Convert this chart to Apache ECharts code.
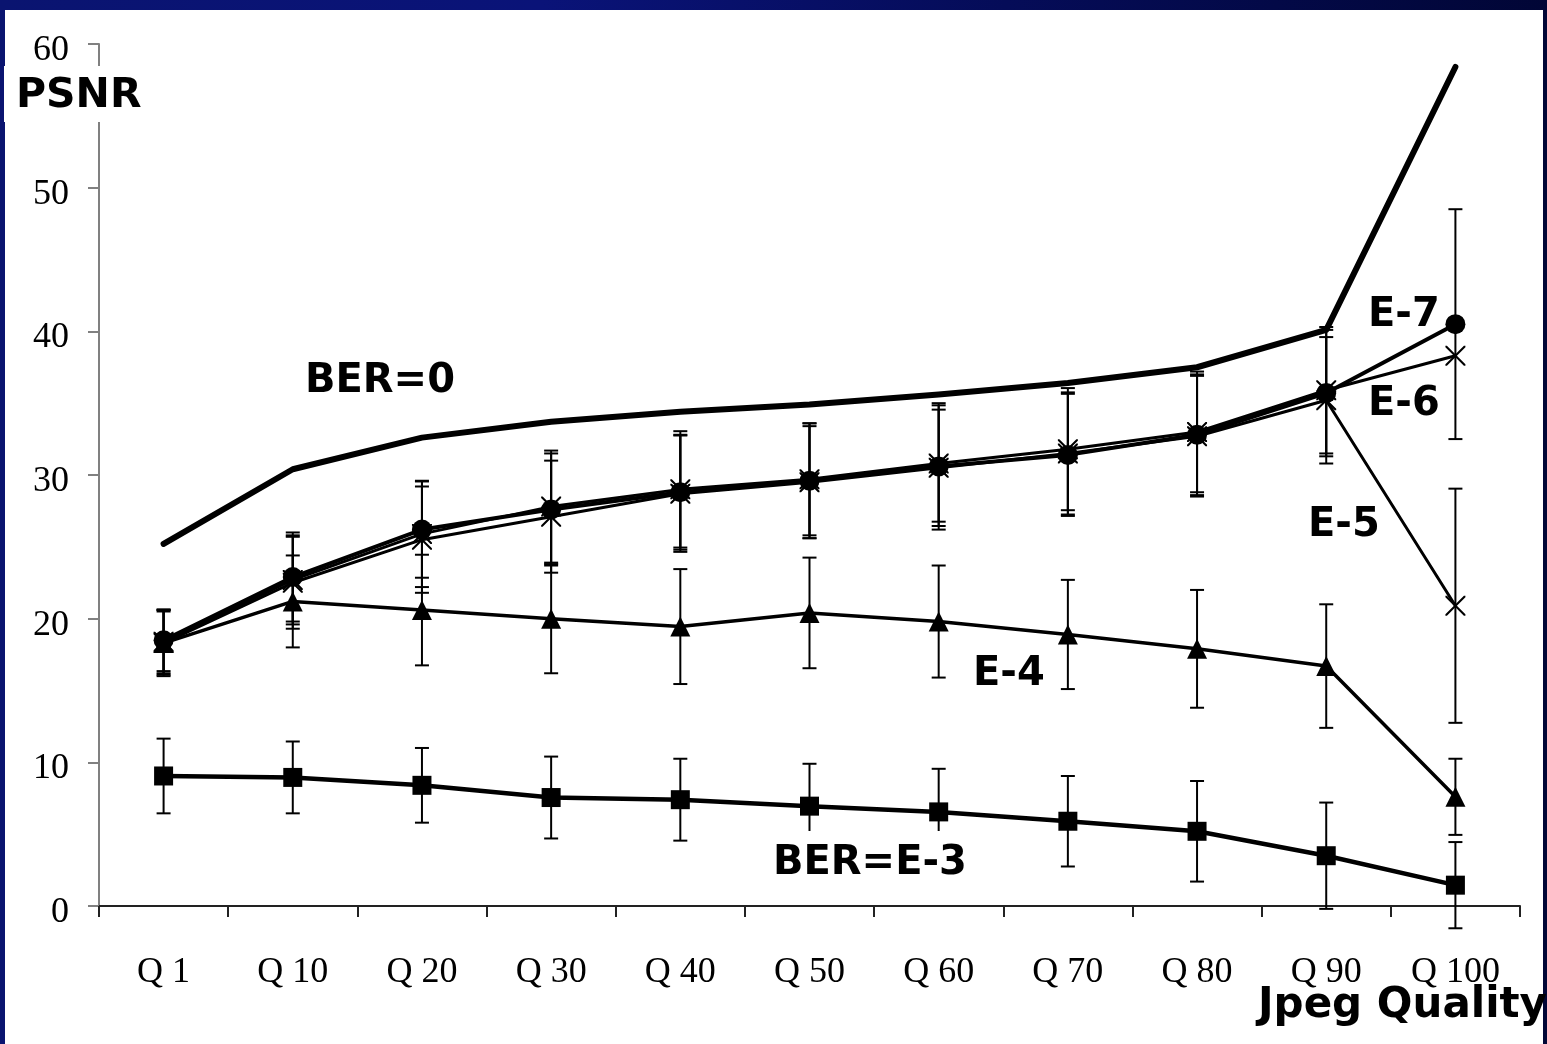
<!DOCTYPE html>
<html>
<head>
<meta charset="utf-8">
<script src="https://cdn.jsdelivr.net/npm/echarts@6/dist/echarts.min.js"></script>
<style>
html,body{margin:0;padding:0;width:1547px;height:1044px;overflow:hidden;}
body{background:linear-gradient(90deg,#0a1470 0%,#0a1378 35%,#050c58 65%,#010636 100%);position:relative;}
#panel{position:absolute;left:5px;top:10px;width:1538px;height:1034px;background:#fff;}
#chart{position:absolute;left:0;top:0;width:1547px;height:1044px;}
</style>
</head>
<body>
<div id="panel"></div>
<div id="chart"></div>
<script>
// ---- data ----
const categories = ['Q 1','Q 10','Q 20','Q 30','Q 40','Q 50','Q 60','Q 70','Q 80','Q 90','Q 100'];
const yTicks = [0,10,20,30,40,50,60];

const ber0  = [25.2, 30.4, 32.6, 33.7, 34.4, 34.9, 35.6, 36.4, 37.5, 40.1, 58.4];

const e7    = [18.5, 22.9, 26.2, 27.6, 28.8, 29.6, 30.6, 31.4, 32.8, 35.7, 40.5];
const e7Err = [2.15, 3.1, 3.35, 3.9, 4.0, 4.0, 4.4, 4.25, 4.2, 4.4, 8.0];

const e6    = [18.4, 22.7, 25.9, 27.8, 29.0, 29.7, 30.8, 31.8, 33.0, 35.9, 38.3];
const e6Err = [2.2, 3.1, 3.7, 3.9, 4.05, 3.9, 4.05, 4.25, 4.2, 4.4, null];

const e5    = [18.3, 22.5, 25.5, 27.1, 28.7, 29.5, 30.5, 31.5, 32.7, 35.2, 20.9];
const e5Err = [2.3, 3.2, 3.7, 3.9, 4.05, 3.9, 4.05, 4.25, 4.2, 4.4, 8.15];

const e4    = [18.3, 21.2, 20.6, 20.0, 19.45, 20.4, 19.8, 18.9, 17.9, 16.7, 7.6];
const e4Err = [2.2, 3.2, 3.85, 3.8, 4.0, 3.85, 3.9, 3.8, 4.1, 4.3, 2.65];

const e3    = [9.05, 8.95, 8.4, 7.55, 7.4, 6.95, 6.55, 5.9, 5.2, 3.5, 1.45];
const e3Err = [2.6, 2.5, 2.6, 2.85, 2.85, 2.95, 3.0, 3.15, 3.5, 3.7, 3.0];

// ---- chart ----
const chart = echarts.init(document.getElementById('chart'), null, {renderer:'canvas'});

function errData(vals, errs){
  const out = [];
  vals.forEach((v,i)=>{ if(errs[i]!=null) out.push([i, v-errs[i], v+errs[i]]); });
  return out;
}
function errSeries(vals, errs){
  return {
    type:'custom', z:1, silent:true,
    data: errData(vals, errs),
    encode:{x:0, y:[1,2]},
    renderItem:function(params, api){
      const x = api.value(0);
      const lo = api.coord([x, api.value(1)]);
      const hi = api.coord([x, api.value(2)]);
      const hw = 7;
      const st = {stroke:'#000', lineWidth:2};
      return {type:'group', children:[
        {type:'line', shape:{x1:lo[0],y1:lo[1],x2:hi[0],y2:hi[1]}, style:st},
        {type:'line', shape:{x1:lo[0]-hw,y1:lo[1],x2:lo[0]+hw,y2:lo[1]}, style:st},
        {type:'line', shape:{x1:hi[0]-hw,y1:hi[1],x2:hi[0]+hw,y2:hi[1]}, style:st}
      ]};
    }
  };
}
const xSym = 'path://M0,0 L1.5,0 L10,8.5 L18.5,0 L20,0 L20,1.5 L11.5,10 L20,18.5 L20,20 L18.5,20 L10,11.5 L1.5,20 L0,20 L0,18.5 L8.5,10 L0,1.5 Z';

function lineSeries(name, vals, sym, size, width){
  return {
    name, type:'line', data:vals, z:3,
    symbol: sym, symbolSize: size, showSymbol: sym!=='none',
    lineStyle:{color:'#000', width:width, cap:'round', join:'round'},
    itemStyle:{color:'#000', borderWidth:0},
    emphasis:{disabled:true}
  };
}

function label(text, x, y, align, extra){
  return {
    type:'text', x:x, y:y, z:100,
    style:Object.assign({
      text:text, fill:'#000', font:'bold 40px "DejaVu Sans"',
      textAlign:align||'left', textVerticalAlign:'middle'
    }, extra||{})
  };
}

chart.setOption({
  animation:false,
  backgroundColor:'transparent',
  grid:{left:99, right:27, top:44, bottom:138, containLabel:false},
  xAxis:{
    type:'category', data:categories, boundaryGap:true,
    axisLine:{lineStyle:{color:'#222', width:2}},
    axisTick:{show:true, interval:0, length:11, lineStyle:{color:'#222', width:2}},
    axisLabel:{interval:0, margin:49, color:'#000', fontFamily:'Liberation Serif', fontSize:36},
    splitLine:{show:false}
  },
  yAxis:{
    type:'value', min:yTicks[0], max:yTicks[yTicks.length-1], interval:10,
    axisLine:{show:true, lineStyle:{color:'#808080', width:2}},
    axisTick:{show:true, length:11, lineStyle:{color:'#808080', width:2}},
    axisLabel:{margin:30, color:'#000', fontFamily:'Liberation Serif', fontSize:36,
               verticalAlign:'top', lineHeight:13},
    splitLine:{show:false}
  },
  series:[
    errSeries(e3, e3Err),
    errSeries(e4, e4Err),
    errSeries(e5, e5Err),
    errSeries(e6, e6Err),
    errSeries(e7, e7Err),
    lineSeries('BER=0', ber0, 'none', 0, 6),
    lineSeries('E-3', e3, 'rect', 19, 4.5),
    lineSeries('E-4', e4, 'triangle', 20, 3.5),
    lineSeries('E-5', e5, xSym, 20, 3),
    lineSeries('E-6', e6, xSym, 20, 3),
    lineSeries('E-7', e7, 'circle', 20, 4)
  ],
  graphic:[
    {type:'rect', z:99, shape:{x:4, y:66, width:138, height:56}, style:{fill:'#fff'}},
    label('PSNR', 16, 96, 'left', {font:'bold 41px "DejaVu Sans"'}),
    label('Jpeg Quality', 1547, 1006, 'right', {font:'bold 42px "DejaVu Sans"'}),
    label('BER=0', 305, 382, 'left'),
    label('E-7', 1368, 316, 'left'),
    label('E-6', 1368, 405, 'left'),
    label('E-5', 1308, 526, 'left'),
    label('E-4', 973, 675, 'left'),
    {type:'rect', z:99, shape:{x:770, y:831, width:204, height:58}, style:{fill:'#fff'}},
    label('BER=E-3', 773, 864, 'left')
  ]
});
</script>
</body>
</html>
